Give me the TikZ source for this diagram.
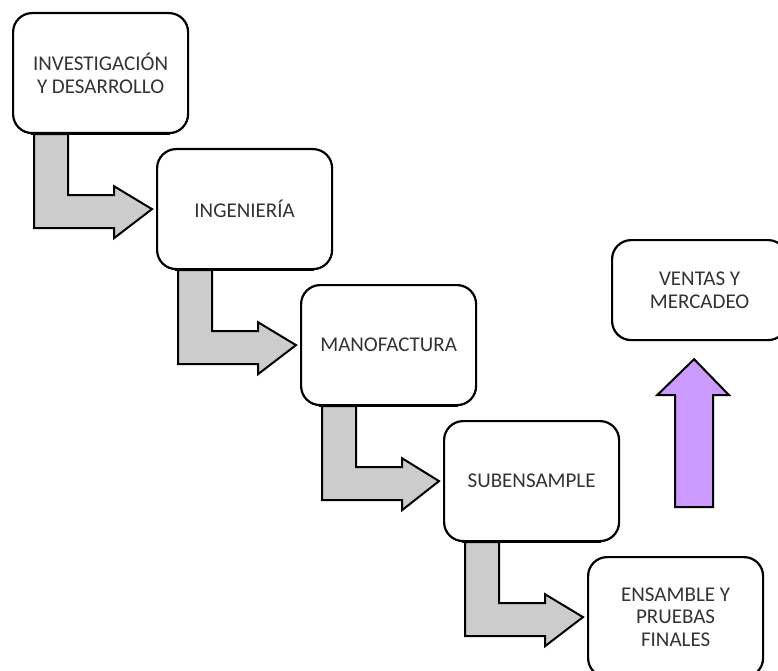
\documentclass[tikz,border=0pt]{standalone}
\usepackage{fontspec}
\setmainfont{Carlito}
\usetikzlibrary{calc}
\definecolor{arrowgray}{HTML}{CCCCCC}
\definecolor{arrowpurple}{HTML}{CC99FF}
\definecolor{txtgray}{HTML}{333333}
\tikzset{
  stepbox/.style={draw=black, line width=2.2pt, fill=white, rounded corners=19pt,
    minimum width=175pt, minimum height=120pt, inner sep=0pt, anchor=north west,
    align=center, text=txtgray, font=\fontsize{21}{22.5}\selectfont},
  grayarrow/.style={draw=black, line width=2pt, fill=arrowgray, line join=miter},
  purplearrow/.style={draw=black, line width=2pt, fill=arrowpurple, line join=miter}
}
\begin{document}
\begin{tikzpicture}[x=1pt,y=-1pt]
\useasboundingbox (0,0) rectangle (778,671);
\clip (0,0) rectangle (778,671);
% nodes
\node[stepbox] (b1) at (12,12) {INVESTIGACIÓN\\Y DESARROLLO};
\node[stepbox] (b2) at (156,148) {INGENIERÍA};
\node[stepbox] (b3) at (300,284) {MANOFACTURA};
\node[stepbox] (b4) at (443,420) {SUBENSAMPLE};
\node[stepbox] (b5) at (587,556) {ENSAMBLE Y\\PRUEBAS\\FINALES};
\node[stepbox, minimum height=100pt] (b6) at (611,239) {VENTAS Y\\MERCADEO};
% gray step arrows
\foreach \a/\b in {b1/b2,b2/b3,b3/b4,b4/b5}{
  \draw[grayarrow]
    ($(\a.south west)+(22,0)$) -- ($(\a.south west)+(22,94)$)
    -- ($(\a.south west)+(102,94)$) -- ($(\a.south west)+(102,104)$)
    -- ($(\b.west)+(-4,0)$)
    -- ($(\a.south west)+(102,52)$) -- ($(\a.south west)+(102,61)$)
    -- ($(\a.south west)+(56,61)$) -- ($(\a.south west)+(56,0)$) -- cycle;
}
% redraw box bottoms over arrow tops
\foreach \n in {b1,b2,b3,b4}{
  \draw[line width=2.2pt] ($(\n.south west)+(19,0)$) -- ($(\n.south east)+(-19,0)$);
}
% purple arrow
\coordinate (ptip) at ($(b6.south)+(-5.5,18)$);
\draw[purplearrow]
  ($(ptip)+(-19,148)$) -- ($(ptip)+(-19,36)$) -- ($(ptip)+(-37,36)$)
  -- (ptip) -- ($(ptip)+(35,36)$) -- ($(ptip)+(19,36)$)
  -- ($(ptip)+(19,148)$) -- cycle;
\end{tikzpicture}
\end{document}
